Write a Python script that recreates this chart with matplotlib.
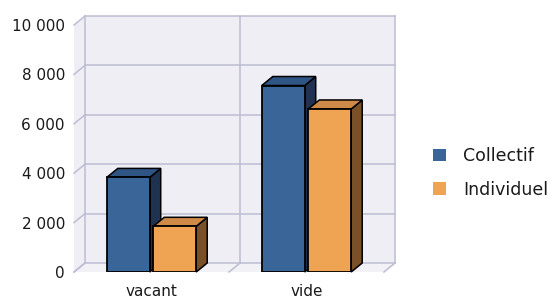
import matplotlib
matplotlib.use("Agg")
import matplotlib.pyplot as plt
from matplotlib.patches import Polygon, Patch

categories = ["vacant", "vide"]
series_names = ["Collectif", "Individuel"]
collectif = [3830, 7550]
individuel = [1850, 6600]
yticks = [0, 2000, 4000, 6000, 8000, 10000]
ytick_labels = ["0", "2 000", "4 000", "6 000", "8 000", "10 000"]

front_cols = ["#3A6598", "#EFA453"]
top_cols = ["#2F5585", "#CF8A48"]
side_cols = ["#1F3350", "#7A5029"]
back_col = "#EEEEF4"
grid_col = "#BDBDD3"

W, H = 548, 298
fig = plt.figure(figsize=(W / 100, H / 100), dpi=100)
fig.patch.set_facecolor("white")
x0, x1, ytop, ybot = 74, 384, 25, 272
ax = fig.add_axes([x0 / W, (H - ybot) / H, (x1 - x0) / W, (ybot - ytop) / H])
ax.set_xlim(0, 2)
ax.set_ylim(0, 10000)
ax.set_facecolor("none")
for s in ax.spines.values():
    s.set_visible(False)

# depth offset in data units (from pixel scale)
dpx, dpy = 11, 9
dx = dpx * 2 / (x1 - x0)
dy = dpy * 10000 / (ybot - ytop)
ymax = 10000

def poly(pts, **kw):
    p = Polygon(pts, closed=True, clip_on=False, **kw)
    ax.add_patch(p)
    return p

# back wall, left wall, floor
poly([(dx, dy), (2 + dx, dy), (2 + dx, ymax + dy), (dx, ymax + dy)], facecolor=back_col, edgecolor="none", zorder=0)
poly([(0, 0), (dx, dy), (dx, ymax + dy), (0, ymax)], facecolor=back_col, edgecolor="none", zorder=0)
poly([(0, 0), (2, 0), (2 + dx, dy), (dx, dy)], facecolor="#F1F1F6", edgecolor="none", zorder=0)

lw = 1.1
for t in yticks:
    ax.plot([dx, 2 + dx], [t + dy, t + dy], color=grid_col, lw=lw, clip_on=False, zorder=1)
    ax.plot([0, dx], [t, t + dy], color=grid_col, lw=lw, clip_on=False, zorder=1)
for xv in [0, 1, 2]:
    ax.plot([xv + dx, xv + dx], [dy, ymax + dy], color=grid_col, lw=lw, clip_on=False, zorder=1)
    ax.plot([xv, xv + dx], [0, dy], color=grid_col, lw=lw, clip_on=False, zorder=1)

bw = 0.277
offsets = [-0.15, 0.15]
for ci in range(len(categories)):
    for si, vals in enumerate([collectif, individuel]):
        v = vals[ci]
        xc = ci + 0.5 + offsets[si]
        xl, xr = xc - bw / 2, xc + bw / 2
        z = 3 + ci * 10 + si * 3
        poly([(xr, 0), (xr + dx, dy), (xr + dx, v + dy), (xr, v)], facecolor=side_cols[si], edgecolor="black", lw=1.1, zorder=z, joinstyle="miter")
        poly([(xl, v), (xr, v), (xr + dx, v + dy), (xl + dx, v + dy)], facecolor=top_cols[si], edgecolor="black", lw=1.1, zorder=z)
        ax.bar(xc, v, width=bw, color=front_cols[si], edgecolor="black", linewidth=1.3, zorder=z + 1)

ax.set_yticks(yticks)
ax.set_yticklabels(ytick_labels)
ax.set_xticks([0.5, 1.5])
ax.set_xticklabels(categories)
ax.tick_params(axis="y", length=0, pad=6.5, labelsize=11, colors="#1a1a1a")
ax.tick_params(axis="x", length=0, pad=9, labelsize=11, colors="#1a1a1a")

handles = [Patch(facecolor=front_cols[i], edgecolor="none") for i in range(2)]
fig.legend(handles, series_names, loc="center left", bbox_to_anchor=(417 / W, 1 - 173 / H),
           frameon=False, fontsize=12.5, handlelength=0.75, handleheight=0.75,
           handletextpad=1.0, labelspacing=0.9, labelcolor="#1a1a1a")

fig.savefig("out.png", dpi=100)
